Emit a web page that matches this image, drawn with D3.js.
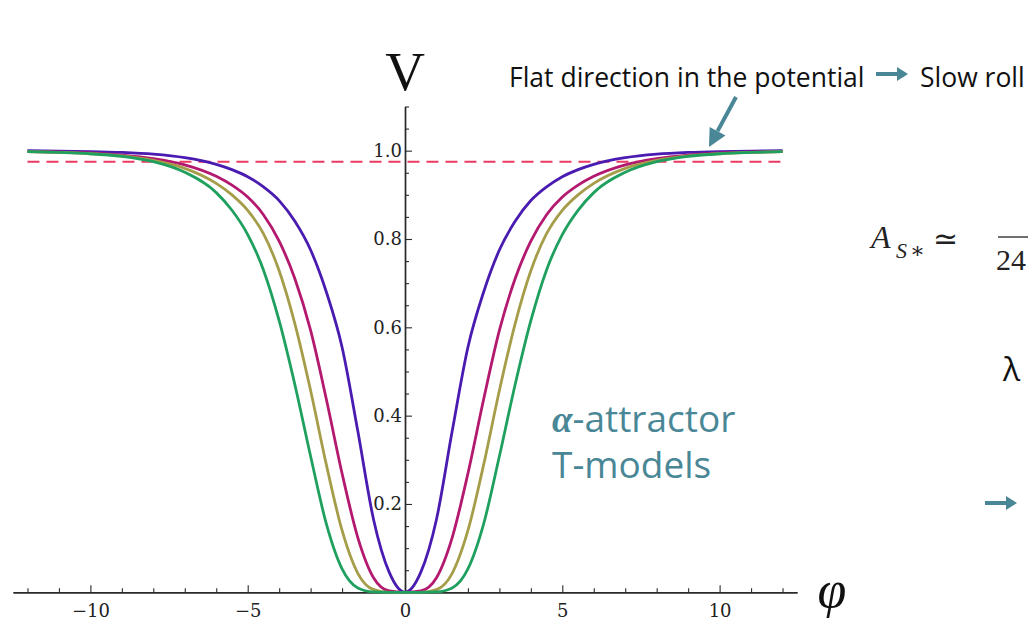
<!DOCTYPE html>
<html>
<head>
<meta charset="utf-8">
<script src="https://cdn.jsdelivr.net/npm/d3@7"></script>
<style>
  html, body { margin: 0; padding: 0; background: #fff; }
  svg { display: block; }
</style>
</head>
<body>
<svg id="chart" width="1028" height="622"></svg>
<script>
// Field values where the potential is sampled
const phi = [-12, -11, -10, -9, -8, -7, -6, -5.5, -5, -4.5, -4, -3.5, -3, -2.5, -2, -1.5, -1, -0.5,
             0, 0.5, 1, 1.5, 2, 2.5, 3, 3.5, 4, 4.5, 5, 5.5, 6, 7, 8, 9, 10, 11, 12];

// Potential V(φ) for the four T-model curves
const vPurple = [1.0, 0.999, 0.998, 0.996, 0.992, 0.984, 0.969, 0.957, 0.941, 0.918, 0.887, 0.840, 0.775, 0.680, 0.555, 0.365, 0.165, 0.045,
                 0, 0.045, 0.165, 0.365, 0.555, 0.680, 0.775, 0.840, 0.887, 0.918, 0.941, 0.957, 0.969, 0.984, 0.992, 0.996, 0.998, 0.999, 1.0];
const vMagenta = [0.998, 0.997, 0.995, 0.990, 0.982, 0.968, 0.942, 0.922, 0.895, 0.855, 0.795, 0.710, 0.593, 0.437, 0.269, 0.124, 0.033, 0.003,
                  0, 0.003, 0.033, 0.124, 0.269, 0.437, 0.593, 0.710, 0.795, 0.855, 0.895, 0.922, 0.942, 0.968, 0.982, 0.990, 0.995, 0.997, 0.998];
const vOlive = [0.998, 0.996, 0.993, 0.988, 0.978, 0.960, 0.926, 0.900, 0.865, 0.812, 0.728, 0.608, 0.457, 0.289, 0.140, 0.043, 0.006, 0,
                0, 0, 0.006, 0.043, 0.140, 0.289, 0.457, 0.608, 0.728, 0.812, 0.865, 0.900, 0.926, 0.960, 0.978, 0.988, 0.993, 0.996, 0.998];
const vGreen = [0.998, 0.996, 0.993, 0.987, 0.975, 0.951, 0.905, 0.865, 0.810, 0.730, 0.615, 0.470, 0.308, 0.155, 0.053, 0.010, 0.001, 0,
                0, 0, 0.001, 0.010, 0.053, 0.155, 0.308, 0.470, 0.615, 0.730, 0.810, 0.865, 0.905, 0.951, 0.975, 0.987, 0.993, 0.996, 0.998];

const seriesNames = ["purple", "magenta", "olive", "green"];
const seriesColors = ["#4a1bb0", "#b3196f", "#a69d4a", "#1fa05e"];
const seriesValues = [vPurple, vMagenta, vOlive, vGreen];

// Horizontal reference level
const refLevel = 0.975;

// Axis ticks
const xMajorTicks = [-10, -5, 0, 5, 10];
const xMinorTicks = [-12, -11, -9, -8, -7, -6, -4, -3, -2, -1, 1, 2, 3, 4, 6, 7, 8, 9, 11, 12];
const yMajorTicks = [0.2, 0.4, 0.6, 0.8, 1.0];
const yMinorTicks = [0.05, 0.1, 0.15, 0.25, 0.3, 0.35, 0.45, 0.5, 0.55, 0.65, 0.7, 0.75, 0.85, 0.9, 0.95, 1.05, 1.1];

const teal = "#4a8796";
const svg = d3.select("#chart");

const x = d3.scaleLinear().domain([-12.46, 12.46]).range([13, 797]);
const y = d3.scaleLinear().domain([0, 1.1]).range([592.3, 106.5]);

// ---- axes ----
const tickFont = "'DejaVu Serif', 'Liberation Serif', serif";
const axisFont = "'Liberation Serif', 'DejaVu Serif', serif";

const xAxisMajor = d3.axisBottom(x).tickValues(xMajorTicks).tickSizeInner(-7).tickSizeOuter(0)
  .tickPadding(12).tickFormat(d3.format("d"));
const xAxisMinor = d3.axisBottom(x).tickValues(xMinorTicks).tickSizeInner(-4).tickSizeOuter(0).tickFormat("");

const gxMinor = svg.append("g").attr("transform", `translate(0,${y(0)})`).call(xAxisMinor);
const gx = svg.append("g").attr("transform", `translate(0,${y(0)})`).call(xAxisMajor);
[gx, gxMinor].forEach(g => {
  g.select(".domain").attr("stroke", "#2a2a2a").attr("stroke-width", 1.4);
  g.selectAll(".tick line").attr("stroke", "#2a2a2a").attr("stroke-width", 1.1);
});
gx.selectAll(".tick text").attr("font-family", tickFont).attr("font-size", 18).attr("fill", "#222");

const yAxisMajor = d3.axisLeft(y).tickValues(yMajorTicks).tickSizeInner(-7).tickSizeOuter(0)
  .tickPadding(3).tickFormat(d3.format(".1f"));
const yAxisMinor = d3.axisLeft(y).tickValues(yMinorTicks).tickSizeInner(-4).tickSizeOuter(0).tickFormat("");

const gyMinor = svg.append("g").attr("transform", `translate(${x(0)},0)`).call(yAxisMinor);
const gy = svg.append("g").attr("transform", `translate(${x(0)},0)`).call(yAxisMajor);
[gy, gyMinor].forEach(g => {
  g.select(".domain").attr("stroke", "#2a2a2a").attr("stroke-width", 1.4);
  g.selectAll(".tick line").attr("stroke", "#2a2a2a").attr("stroke-width", 1.1);
});
gy.selectAll(".tick text").attr("font-family", tickFont).attr("font-size", 18).attr("fill", "#222");

// Axis names
svg.append("text").attr("x", x(0)).attr("y", 90).attr("text-anchor", "middle")
  .attr("font-family", axisFont).attr("font-size", 55).attr("fill", "#111").text("V");
svg.append("text").attr("x", 832).attr("y", 607).attr("text-anchor", "middle")
  .attr("font-family", axisFont).attr("font-style", "italic").attr("font-size", 52).attr("fill", "#111").text("φ");

// ---- reference level ----
svg.append("line")
  .attr("x1", x(-12)).attr("x2", x(12))
  .attr("y1", y(refLevel)).attr("y2", y(refLevel))
  .attr("stroke", "#ea3a62").attr("stroke-width", 2)
  .attr("stroke-dasharray", "12,7");

// ---- potential curves ----
const line = d3.line()
  .x(d => x(d[0]))
  .y(d => y(d[1]))
  .curve(d3.curveMonotoneX);

svg.append("g").selectAll("path")
  .data(seriesValues.map((vals, i) => ({ name: seriesNames[i], color: seriesColors[i], pts: phi.map((p, j) => [p, vals[j]]) })))
  .join("path")
  .attr("d", d => line(d.pts))
  .attr("fill", "none")
  .attr("stroke", d => d.color)
  .attr("stroke-width", 2.8)
  .attr("stroke-linejoin", "round");

// ---- annotations ----
const sans = "'Open Sans', 'Noto Sans', sans-serif";

svg.append("text").attr("x", 509).attr("y", 87)
  .attr("font-family", sans).attr("font-size", 26.5).attr("fill", "#111")
  .text("Flat direction in the potential");

// small teal right arrow
function rightArrow(x0, x1, yy, w, hw) {
  svg.append("line").attr("x1", x0).attr("x2", x1 - 8).attr("y1", yy).attr("y2", yy)
    .attr("stroke", teal).attr("stroke-width", w);
  svg.append("path")
    .attr("d", `M${x1 - 11},${yy - hw} L${x1},${yy} L${x1 - 11},${yy + hw} Z`)
    .attr("fill", teal);
}
rightArrow(876, 908, 74, 4, 7);

svg.append("text").attr("x", 920).attr("y", 87)
  .attr("font-family", sans).attr("font-size", 26.5).attr("fill", "#111")
  .text("Slow roll");

// pointer arrow towards the plateau
(function () {
  const x0 = 736, y0 = 97, x1 = 709, y1 = 147;
  const ang = Math.atan2(y1 - y0, x1 - x0);
  const headLen = 18, headW = 9;
  const bx = x1 - headLen * Math.cos(ang), by = y1 - headLen * Math.sin(ang);
  svg.append("line").attr("x1", x0).attr("y1", y0).attr("x2", bx).attr("y2", by)
    .attr("stroke", teal).attr("stroke-width", 4);
  const px = -Math.sin(ang) * headW, py = Math.cos(ang) * headW;
  svg.append("path")
    .attr("d", `M${x1},${y1} L${bx + px},${by + py} L${bx - px},${by - py} Z`)
    .attr("fill", teal);
})();

// model name
const label = svg.append("text").attr("x", 552).attr("y", 432)
  .attr("font-family", sans).attr("font-size", 37).attr("fill", teal);
label.append("tspan").attr("font-family", axisFont).attr("font-style", "italic").attr("font-weight", "bold").text("α");
label.append("tspan").text("-attractor");
svg.append("text").attr("x", 552).attr("y", 478)
  .attr("font-family", sans).attr("font-size", 37).attr("fill", teal)
  .text("T-models");

// amplitude relation (continues past the right edge)
svg.append("text").attr("x", 871).attr("y", 248)
  .attr("font-family", axisFont).attr("font-style", "italic").attr("font-size", 32).attr("fill", "#222").text("A");
svg.append("text").attr("x", 896).attr("y", 258)
  .attr("font-family", axisFont).attr("font-style", "italic").attr("font-size", 22).attr("fill", "#222").text("S");
svg.append("text").attr("x", 910).attr("y", 258)
  .attr("font-family", axisFont).attr("font-size", 22).attr("fill", "#222").text("∗");
svg.append("text").attr("x", 933).attr("y", 249)
  .attr("font-family", "'DejaVu Serif', serif").attr("font-size", 30).attr("fill", "#222").text("≃");
svg.append("line").attr("x1", 998).attr("x2", 1030).attr("y1", 237).attr("y2", 237)
  .attr("stroke", "#222").attr("stroke-width", 1.3);
svg.append("text").attr("x", 996).attr("y", 270)
  .attr("font-family", axisFont).attr("font-size", 30).attr("fill", "#222").text("24");

svg.append("text").attr("x", 1003).attr("y", 381)
  .attr("font-family", sans).attr("font-size", 32).attr("fill", "#111").text("λ");

rightArrow(985, 1017, 503, 4, 7);
</script>
</body>
</html>
